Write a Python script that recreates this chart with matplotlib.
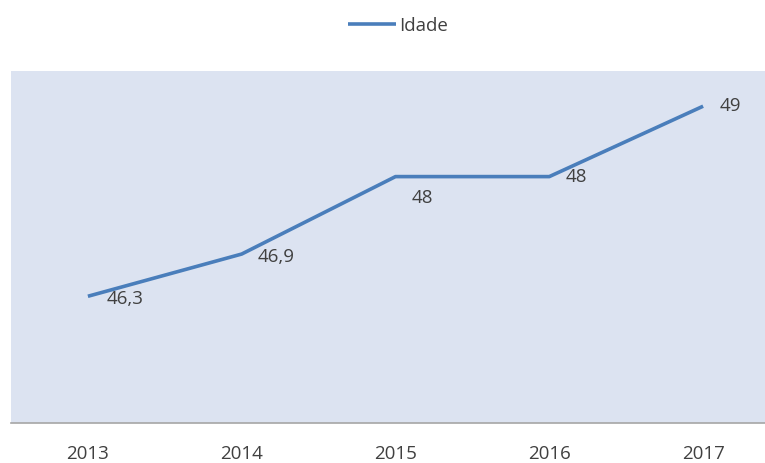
import matplotlib.pyplot as plt

years = ["2013", "2014", "2015", "2016", "2017"]
idade = [46.3, 46.9, 48.0, 48.0, 49.0]
value_labels = ["46,3", "46,9", "48", "48", "49"]

LINE_COLOR = "#4a7ebb"
TEXT_COLOR = "#404040"
FONT_SIZE = 13.5

plt.rcParams['font.family'] = ['Open Sans', 'DejaVu Sans']

fig = plt.figure(figsize=(7.65, 4.63), dpi=100)
# plot area runs slightly past the right edge
ax = fig.add_axes([11 / 765, 1 - 423 / 463, 769 / 765, 352 / 463])
ax.set_facecolor("#dce3f1")

x = list(range(len(years)))
ax.plot(x, idade, color=LINE_COLOR, linewidth=2.6, label="Idade", solid_capstyle="butt")

# label offsets in pixels (dx, dy)
offsets = [(19, -3), (16, -3), (16, -21), (16, 0), (17, 0)]
for xi, yi, lab, off in zip(x, idade, value_labels, offsets):
    ax.annotate(lab, (xi, yi), xytext=off, textcoords="offset pixels",
                ha="left", va="center", fontsize=FONT_SIZE, color=TEXT_COLOR)

ax.set_xlim(-0.5, len(years) - 0.5)
ax.set_ylim(44.5, 49.5)
ax.set_xticks(x)
ax.set_xticklabels(years, fontsize=FONT_SIZE, color=TEXT_COLOR)
ax.tick_params(axis="x", length=0, pad=16)
ax.set_yticks([])
for side in ["top", "right", "left"]:
    ax.spines[side].set_visible(False)
ax.spines["bottom"].set_color("#a6a6a6")
ax.spines["bottom"].set_linewidth(1.2)

fig.legend(loc="center", bbox_to_anchor=(0.52, 1 - 26 / 463), frameon=False,
           fontsize=FONT_SIZE, handlelength=2.6, handletextpad=0.15,
           labelcolor=TEXT_COLOR)

fig.savefig("out.png", dpi=100)
